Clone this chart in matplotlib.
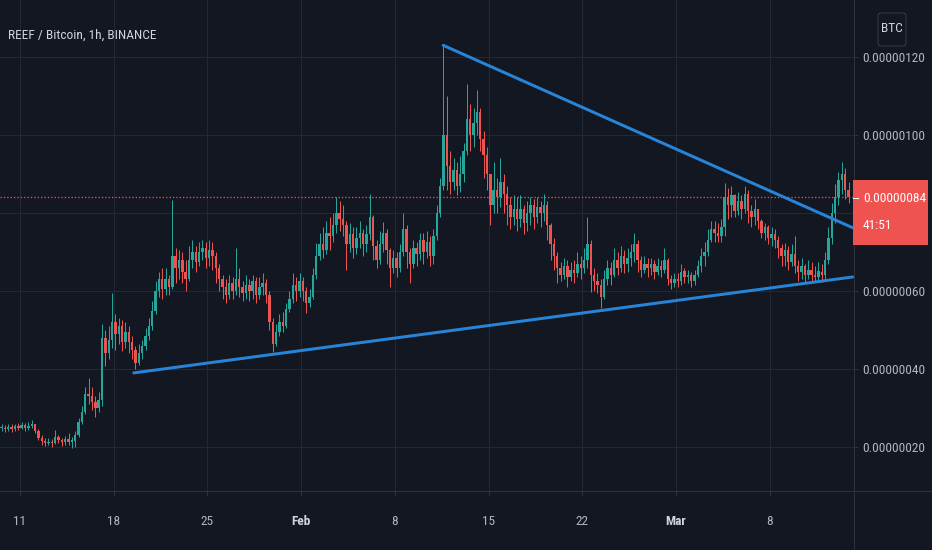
import numpy as np
import matplotlib
matplotlib.use("Agg")
import matplotlib.pyplot as plt
from matplotlib import font_manager as fm
from matplotlib.patches import Rectangle, FancyBboxPatch
from matplotlib.lines import Line2D
from matplotlib.transforms import IdentityTransform

# ---------------- data ----------------
title = "REEF / Bitcoin, 1h, BINANCE"
unit = 1e-8                       # prices below are in units of 1e-8 BTC
price_ticks = [20, 40, 60, 80, 100, 120]
last_price = 84
countdown = "41:51"
currency = "BTC"
# x positions in days since 11 Jan
date_ticks = [0, 7, 14, 21, 28, 35, 42, 49, 56]
date_labels = ["11", "18", "25", "Feb", "8", "15", "22", "Mar", "8"]
month_labels = ["Feb", "Mar"]

start_day = -1.5      # first candle begins 9 Jan 12:00
step = 0.25           # candle length (days)
first_open = 24.8

closes = [
    25.0, 24.6,
    25.2, 24.5, 25.4, 25.0,
    25.6, 24.8, 25.3, 26.0,
    24.0, 22.4, 21.6, 21.0,
    21.4, 21.0, 22.6, 21.8,
    21.2, 22.0, 21.4, 21.6,
    23.0, 26.5, 29.0, 33.5,
    33.0, 31.5, 30.0, 32.0,
    48.0, 44.0, 47.5, 52.0,
    49.0, 51.0, 47.0, 49.5,
    47.0, 45.0, 41.5, 44.0,
    46.0, 48.5, 51.0, 55.0,
    60.0, 63.0, 60.5, 63.0,
    61.0, 69.0, 66.0, 68.0,
    65.0, 63.0, 68.0, 70.0,
    67.5, 70.0, 71.0, 68.5,
    70.5, 69.0, 66.0, 63.0,
    61.0, 59.0, 62.0, 60.0,
    63.0, 61.0, 59.5, 61.5,
    60.0, 62.5, 59.0, 61.0,
    62.0, 59.0, 52.0, 46.5,
    49.5, 52.0, 51.0, 55.5,
    58.0, 61.5, 60.0, 62.5,
    60.0, 57.0, 58.5, 64.0,
    69.0, 72.0, 70.5, 75.0,
    74.0, 77.0, 80.0, 78.5,
    77.0, 72.0, 74.5, 71.0,
    73.5, 75.0, 72.0, 74.5,
    79.0, 71.5, 68.0, 72.0,
    75.0, 70.5, 66.0, 68.5,
    66.0, 70.0, 76.0, 70.0,
    67.0, 71.0, 69.5, 73.0,
    70.0, 72.5, 69.0, 74.0,
    80.0, 87.0, 100.0, 92.0,
    88.0, 91.0, 87.0, 90.0,
    96.0, 104.0, 100.0, 103.0,
    106.0, 99.0, 95.0, 90.0,
    82.0, 86.0, 84.0, 88.0,
    85.0, 82.0, 79.0, 81.0,
    78.5, 81.0, 77.5, 80.0,
    82.0, 79.0, 81.5, 80.0,
    82.0, 77.0, 72.0, 69.0,
    66.0, 64.0, 66.5, 63.5,
    65.5, 64.5, 67.0, 66.0,
    68.0, 72.0, 64.0, 62.5,
    61.5, 58.5, 63.0, 66.0,
    64.0, 68.0, 66.0, 69.0,
    67.0, 68.5, 70.0, 72.0,
    68.0, 65.5, 67.0, 66.0,
    67.0, 65.0, 66.5, 65.5,
    68.0, 63.0, 62.0, 63.0,
    62.5, 65.0, 63.5, 64.0,
    62.5, 64.0, 66.5, 69.0,
    70.0, 73.0, 76.0, 75.0,
    74.0, 76.5, 84.0, 82.0,
    84.5, 80.5, 83.0, 81.0,
    85.0, 80.5, 79.0, 81.0,
    78.0, 75.0, 76.5, 73.5,
    74.5, 73.0, 71.0, 69.0,
    70.5, 67.5, 69.5, 66.5,
    65.0, 66.5, 64.0, 65.5,
    64.0, 63.5, 65.0, 64.0,
    68.0, 73.5, 80.0, 84.0,
    88.5, 90.0, 86.0, 84.0,
]

highs = [
    25.8, 25.6,
    25.9, 25.8, 26.0, 26.2,
    26.3, 26.2, 26.4, 26.8,
    26.0, 24.5, 23.0, 22.4,
    22.2, 22.0, 24.4, 23.0,
    22.4, 22.8, 23.6, 22.6,
    24.0, 27.5, 30.5, 35.5,
    37.7, 35.5, 33.0, 34.0,
    51.5, 50.0, 51.0, 59.5,
    54.0, 53.0, 52.5, 52.0,
    51.0, 48.5, 46.0, 46.5,
    47.5, 50.5, 53.0, 57.5,
    62.5, 65.0, 66.0, 66.0,
    64.0, 83.3, 71.0, 70.5,
    70.0, 68.0, 71.5, 73.0,
    71.5, 72.5, 73.0, 72.5,
    73.0, 72.5, 70.0, 67.0,
    64.0, 63.0, 64.0, 63.5,
    71.0, 66.0, 62.5, 64.0,
    63.0, 64.0, 63.5, 63.5,
    64.5, 63.0, 60.0, 53.0,
    51.5, 54.0, 54.5, 57.0,
    60.0, 64.6, 63.5, 64.5,
    63.5, 61.0, 60.5, 66.0,
    72.3, 75.0, 76.5, 78.0,
    79.0, 80.0, 84.0, 83.0,
    82.0, 78.0, 77.5, 76.5,
    76.5, 78.0, 76.0, 77.0,
    85.0, 79.5, 73.0, 75.5,
    77.7, 76.0, 71.0, 70.5,
    70.0, 72.0, 80.0, 77.0,
    71.0, 73.0, 72.5, 75.0,
    75.0, 75.5, 74.0, 76.0,
    82.0, 89.0, 123.0, 110.0,
    96.0, 94.0, 93.0, 94.5,
    98.0, 113.0, 108.0, 107.0,
    111.5, 107.0, 101.0, 97.0,
    90.0, 93.0, 89.0, 94.0,
    90.0, 87.0, 84.0, 84.5,
    84.0, 84.5, 82.0, 83.0,
    84.0, 83.5, 84.0, 83.0,
    85.0, 83.0, 77.5, 73.5,
    70.0, 67.5, 68.5, 68.0,
    67.5, 68.0, 70.0, 69.0,
    71.0, 79.0, 73.0, 66.0,
    64.5, 63.0, 65.5, 68.0,
    67.5, 71.0, 70.0, 71.5,
    70.5, 71.0, 72.0, 74.9,
    73.0, 69.0, 69.0, 68.5,
    68.5, 68.0, 68.5, 68.0,
    71.0, 68.5, 64.0, 64.5,
    64.5, 67.0, 66.0, 65.5,
    65.0, 65.5, 68.0, 71.0,
    72.5, 76.0, 78.0, 78.0,
    77.5, 78.5, 87.7, 86.5,
    87.0, 85.0, 85.5, 84.5,
    87.0, 86.0, 82.0, 83.5,
    81.0, 78.5, 77.5, 77.0,
    76.5, 76.0, 74.0, 72.0,
    72.3, 71.5, 72.0, 74.0,
    68.0, 68.5, 67.0, 68.0,
    67.5, 66.5, 67.5, 67.0,
    70.0, 76.5, 82.5, 87.5,
    90.5, 93.0, 91.5, 88.0,
]

lows = [
    24.2, 23.8,
    24.0, 23.9, 24.2, 24.3,
    24.5, 24.0, 24.4, 24.9,
    23.5, 21.8, 20.6, 20.2,
    20.5, 20.0, 20.8, 20.9,
    20.2, 20.6, 20.4, 19.8,
    20.0, 22.5, 25.8, 28.5,
    31.0, 29.5, 27.7, 29.0,
    30.5, 40.8, 42.5, 45.5,
    45.0, 46.5, 44.5, 45.5,
    44.0, 42.5, 40.0, 41.0,
    42.5, 45.0, 47.5, 50.0,
    54.0, 58.5, 58.0, 59.0,
    59.0, 60.5, 62.0, 63.0,
    62.0, 60.0, 62.5, 66.0,
    65.0, 66.5, 68.0, 66.0,
    66.5, 65.5, 62.0, 60.0,
    58.0, 57.0, 58.0, 58.0,
    59.0, 58.5, 57.5, 58.0,
    57.5, 58.0, 57.0, 58.0,
    59.0, 57.0, 50.0, 44.3,
    46.0, 48.5, 49.5, 50.5,
    54.5, 57.0, 57.5, 58.5,
    57.5, 54.4, 56.0, 58.0,
    63.0, 68.0, 68.5, 69.5,
    70.5, 72.5, 75.0, 75.5,
    74.0, 65.4, 70.0, 68.5,
    69.5, 71.0, 69.0, 70.0,
    73.0, 68.0, 66.0, 67.0,
    70.0, 67.0, 61.0, 64.5,
    63.5, 65.0, 69.0, 66.0,
    62.0, 66.0, 66.5, 68.0,
    67.0, 68.5, 66.5, 67.0,
    73.0, 79.0, 86.0, 86.0,
    85.0, 86.0, 84.5, 85.5,
    88.0, 95.0, 96.0, 97.0,
    100.0, 96.0, 89.0, 86.0,
    77.0, 80.0, 80.0, 81.5,
    80.0, 77.0, 76.0, 77.0,
    75.5, 76.5, 74.5, 75.5,
    77.0, 76.0, 77.5, 76.5,
    78.0, 73.0, 68.0, 65.5,
    62.0, 62.5, 63.0, 61.0,
    62.5, 62.0, 63.5, 63.0,
    64.5, 66.0, 59.7, 60.0,
    59.5, 55.6, 58.0, 61.5,
    61.5, 63.5, 64.0, 65.0,
    64.5, 65.0, 66.5, 67.5,
    65.0, 63.5, 64.5, 63.5,
    64.0, 63.0, 64.0, 63.5,
    64.5, 61.5, 60.5, 61.0,
    61.0, 61.5, 62.0, 62.0,
    61.0, 61.5, 63.5, 65.0,
    66.5, 69.0, 72.5, 72.5,
    72.5, 72.5, 74.0, 78.5,
    79.0, 79.0, 79.5, 78.5,
    80.0, 77.5, 76.5, 77.0,
    76.0, 73.5, 73.0, 72.0,
    71.5, 71.0, 68.5, 66.5,
    66.5, 65.5, 66.5, 64.5,
    62.5, 63.0, 62.3, 63.0,
    62.3, 62.3, 62.5, 62.4,
    62.5, 67.0, 72.0, 77.5,
    82.0, 85.0, 83.5, 82.5,
]

# hand-drawn trend lines (day, price)
upper_line_days = [31.6, 62.2]
upper_line_prices = [123.0, 76.2]
lower_line_days = [8.5, 62.2]
lower_line_prices = [39.0, 63.6]

# ---------------- style ----------------
W, H = 932, 550
BG = "#131722"
GRID = "#242833"
BORDER = "#2e323d"
TXT = "#b2b5be"
GREEN = "#26a69a"
RED = "#ef5350"
BLUE = "#2784d6"


def pick_font(bold=False):
    wanted = ["Liberation Sans Narrow", "Roboto Condensed", "Open Sans Condensed",
              "DejaVu Sans Condensed", "Noto Sans Condensed"]
    ok_w = ("700", "bold") if bold else ("400", "normal", "regular")
    entries = fm.fontManager.ttflist
    for w in wanted:
        for e in entries:
            if e.name == w and e.style == "normal" and str(e.weight) in ok_w:
                return fm.FontProperties(fname=e.fname)
    for e in entries:
        if str(e.stretch) in ("condensed", "semi-condensed", "extra-condensed") \
                and e.style == "normal" and str(e.weight) in ok_w:
            return fm.FontProperties(fname=e.fname)
    return fm.FontProperties(family="Liberation Sans",
                             weight="bold" if bold else "normal")


fp = pick_font()
fpb = pick_font(bold=True)

fig = plt.figure(figsize=(W / 100, H / 100), dpi=100, facecolor=BG)
renderer = fig.canvas.get_renderer()

# fit font size so that a price label is ~62 px wide
probe = fig.text(0, 0, "0.00000120", fontproperties=fp, fontsize=10)
wpx = probe.get_window_extent(renderer).width
probe.remove()
FS = 10 * 62.0 / wpx

px = 0.72  # points per pixel at 100 dpi

plot_right = 854
plot_bottom = 491
ax = fig.add_axes([0, (H - plot_bottom) / H, plot_right / W, plot_bottom / H])
ax.set_facecolor(BG)

# scales: 13.39 px/day with 11 Jan at x=20 ; 3.9 px/unit with 20 at y=447
px_day = 13.39
px_unit = 3.9
ax.set_xlim(-20 / px_day, (plot_right - 20) / px_day)
ax.set_ylim(20 - (plot_bottom - 447) / px_unit, 20 + 447 / px_unit)

for s in ax.spines.values():
    s.set_visible(False)

ax.set_xticks(date_ticks)
ax.set_xticklabels(date_labels)
ax.set_yticks(price_ticks)
ax.set_yticklabels([f"{v * unit:.8f}" if v != last_price - 4 else "" for v in price_ticks])
ax.yaxis.tick_right()
ax.grid(True, color=GRID, lw=1 * px)
ax.set_axisbelow(True)
ax.tick_params(axis="y", colors=BORDER, labelcolor=TXT, length=4 * px, width=1 * px,
               pad=4 * px, labelsize=FS)
ax.tick_params(axis="x", colors=BORDER, labelcolor=TXT, length=5 * px, width=1 * px,
               pad=19 * px, labelsize=FS)
for lab in ax.get_yticklabels():
    lab.set_fontproperties(fp)
    lab.set_fontsize(FS)
for lab in ax.get_xticklabels():
    if lab.get_text() in month_labels:
        lab.set_fontproperties(fpb)
        lab.set_color("#d1d4dc")
    else:
        lab.set_fontproperties(fp)
    lab.set_fontsize(FS)

# candles
c = np.array(closes, dtype=float)
o = np.r_[first_open, c[:-1]]
h = np.maximum(np.array(highs, dtype=float), np.maximum(o, c))
l = np.minimum(np.array(lows, dtype=float), np.minimum(o, c))
t = start_day + step * np.arange(len(c)) + step / 2
cols = np.where(c >= o, GREEN, RED)
ax.vlines(t, l, h, colors=cols, lw=1.0 * px, zorder=2)
body_lo = np.minimum(o, c)
body_h = np.maximum(np.abs(c - o), 0.35)
ax.bar(t, body_h, bottom=body_lo, width=step * 0.72, color=cols, linewidth=0, zorder=3)

# last price dotted line
ax.axhline(last_price, color=RED, lw=1.3 * px, linestyle=(0, (1.0, 1.6)), zorder=4)

# trend lines
ax.plot(upper_line_days, upper_line_prices, color=BLUE, lw=3 * px,
        solid_capstyle="round", zorder=5)
ax.plot(lower_line_days, lower_line_prices, color=BLUE, lw=3 * px,
        solid_capstyle="round", zorder=5)

# scale borders
fig.add_artist(Line2D([plot_right / W] * 2, [0, 1], color=BORDER, lw=1 * px))
fig.add_artist(Line2D([0, 1], [(H - plot_bottom) / H] * 2, color=BORDER, lw=1 * px))

# title
fig.text(8 / W, 1 - 35 / H, title, fontproperties=fp, fontsize=FS, color="#d1d4dc",
         ha="left", va="center")

# currency button
fig.add_artist(FancyBboxPatch((878, H - 46), 28, 33,
                              boxstyle="round,pad=0,rounding_size=3",
                              transform=IdentityTransform(), facecolor=BG,
                              edgecolor="#363a45", lw=1 * px, zorder=6))
fig.text(892 / W, 1 - 29 / H, currency, fontproperties=fp, fontsize=FS, color="#d1d4dc",
         ha="center", va="center", zorder=7)

# last price label box
fig.add_artist(Rectangle((853 / W, 1 - 245 / H), 75 / W, 65 / H,
                         transform=fig.transFigure, facecolor=RED, edgecolor="none",
                         zorder=8))
fig.add_artist(Line2D([853 / W, 858 / W], [1 - 198 / H] * 2, color="white",
                      lw=1 * px, zorder=9))
fig.text(863 / W, 1 - 198 / H, f"{last_price * unit:.8f}", fontproperties=fp,
         fontsize=FS, color="white", ha="left", va="center", zorder=9)
fig.text(863 / W, 1 - 225 / H, countdown, fontproperties=fp, fontsize=FS,
         color="white", ha="left", va="center", zorder=9)

fig.savefig("out.png", dpi=100, facecolor=BG)
